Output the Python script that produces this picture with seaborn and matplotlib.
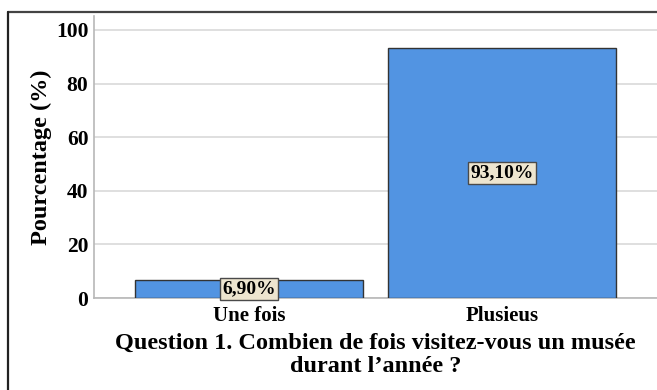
import matplotlib
matplotlib.use("Agg")
import matplotlib.pyplot as plt
from matplotlib.lines import Line2D
import seaborn as sns
import pandas as pd

categories = ["Une fois", "Plusieus"]
percentages = [6.90, 93.10]
value_labels = ["6,90%", "93,10%"]
y_ticks = [0, 20, 40, 60, 80, 100]

sns.set_style("white")
plt.rcParams["font.family"] = ["Liberation Serif", "DejaVu Serif"]
plt.rcParams["font.weight"] = "bold"
plt.rcParams["text.color"] = "black"
plt.rcParams["axes.labelcolor"] = "black"
plt.rcParams["xtick.color"] = "black"
plt.rcParams["ytick.color"] = "black"

df = pd.DataFrame({"categorie": categories, "pourcentage": percentages})

fig = plt.figure(figsize=(6.57, 3.90), dpi=100)
W, H = 657, 390
ax = fig.add_axes([94 / W, 1 - 298 / H, (657 - 94) / W, (298 - 16) / H])

sns.barplot(data=df, x="categorie", y="pourcentage", ax=ax, color="#5294e2",
            saturation=1, width=0.9, edgecolor="#333333", linewidth=1.0, zorder=3)

ax.set_xlim(-0.613, 1.613)
ax.set_ylim(0, 105.2)
ax.set_yticks(y_ticks)
ax.set_yticklabels([str(t) for t in y_ticks], fontsize=15.5, fontweight="bold")
ax.tick_params(axis="y", length=0, pad=4, colors="black")
ax.tick_params(axis="x", length=0, pad=6, colors="black")
for lbl in ax.get_xticklabels():
    lbl.set_fontsize(15)
    lbl.set_fontweight("bold")
ax.yaxis.grid(True, color="#d9d9d9", linewidth=1.2, zorder=0)
ax.set_axisbelow(True)

for side in ["top", "right"]:
    ax.spines[side].set_visible(False)
for side in ["left", "bottom"]:
    ax.spines[side].set_color("#b8b8b8")
    ax.spines[side].set_linewidth(1.2)

ax.set_ylabel("Pourcentage (%)", fontsize=17.5, fontweight="bold", labelpad=3,
              color="black")
ax.set_xlabel("Question 1. Combien de fois visitez-vous un musée\ndurant l\u2019année ?",
              fontsize=17.5, fontweight="bold", labelpad=5, linespacing=1.08,
              color="black")

for i, (val, txt) in enumerate(zip(percentages, value_labels)):
    ax.text(i, val / 2, txt, ha="center", va="center", fontsize=14,
            fontweight="bold", zorder=5, color="black",
            bbox=dict(boxstyle="square,pad=0.12", facecolor="#ede5cf",
                      edgecolor="#4a4a4a", linewidth=1.0))

# outer frame (top and left edges)
fig.add_artist(Line2D([8 / W, 1], [1 - 12 / H, 1 - 12 / H], color="#444444",
                      linewidth=1.6, transform=fig.transFigure))
fig.add_artist(Line2D([8 / W, 8 / W], [0, 1 - 12 / H], color="#222222",
                      linewidth=1.6, transform=fig.transFigure))

fig.savefig("out.png", dpi=100, facecolor="white")
